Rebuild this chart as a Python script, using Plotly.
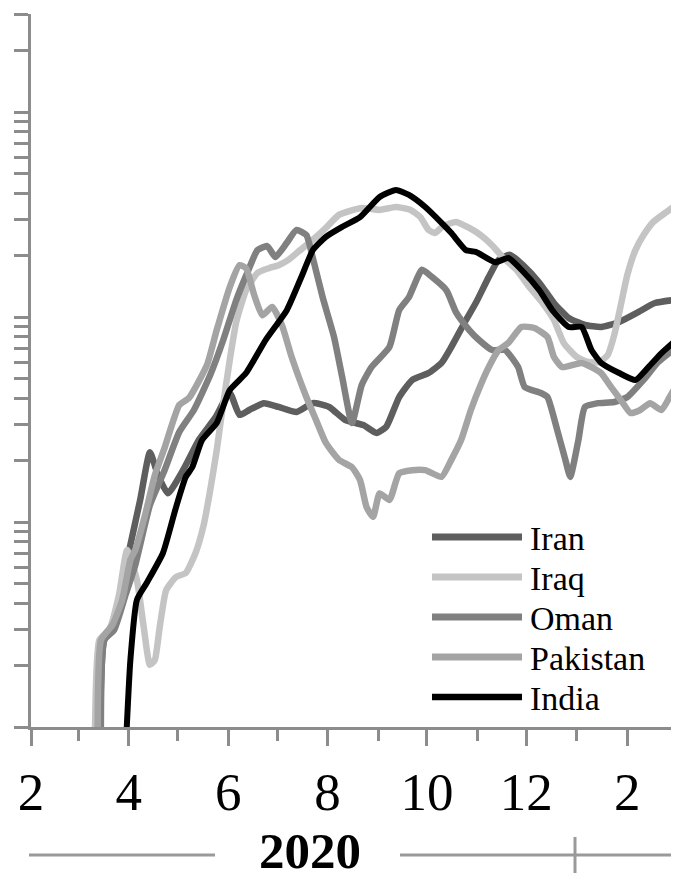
import math
import plotly.graph_objects as go

# ---------------- data ----------------
iran_dates = ["2020-03-14", "2020-03-17", "2020-03-23", "2020-03-31", "2020-04-08", "2020-04-14",
              "2020-04-19", "2020-04-25", "2020-05-05", "2020-05-14", "2020-05-24", "2020-06-02",
              "2020-06-08", "2020-06-14", "2020-06-23", "2020-07-02", "2020-07-13", "2020-07-23",
              "2020-08-02", "2020-08-12", "2020-08-23", "2020-08-31", "2020-09-06", "2020-09-14",
              "2020-09-22", "2020-10-02", "2020-10-10", "2020-10-16", "2020-10-25", "2020-10-31",
              "2020-11-08", "2020-11-14", "2020-11-21", "2020-11-29", "2020-12-09", "2020-12-18",
              "2020-12-27", "2021-01-06", "2021-01-16", "2021-01-27", "2021-02-08", "2021-02-18",
              "2021-03-05"]
iran_values = [0.5, 2.66, 3.04, 6.53, 12.8, 21.9,
               16.9, 13.8, 18.3, 25.1, 32.2, 42.6,
               33.3, 35.2, 38.0, 36.4, 34.4, 38.0,
               36.4, 31.4, 29.7, 27.2, 29.1, 40.7,
               49.3, 53.3, 59.7, 71.4, 96.7, 117,
               157, 190, 201, 179, 147, 117,
               98.9, 91.4, 89.4, 94.6, 106, 117,
               122]

iraq_dates = ["2020-03-11", "2020-03-14", "2020-03-20", "2020-03-26", "2020-03-31", "2020-04-06",
              "2020-04-10", "2020-04-14", "2020-04-17", "2020-04-20", "2020-04-24", "2020-04-30",
              "2020-05-06", "2020-05-12", "2020-05-17", "2020-05-21", "2020-05-25", "2020-05-28",
              "2020-06-02", "2020-06-06", "2020-06-12", "2020-06-19", "2020-06-26", "2020-07-02",
              "2020-07-08", "2020-07-14", "2020-07-23", "2020-07-31", "2020-08-08", "2020-08-22",
              "2020-09-02", "2020-09-12", "2020-09-21", "2020-09-27", "2020-10-02", "2020-10-06",
              "2020-10-11", "2020-10-19", "2020-10-27", "2020-11-03", "2020-11-10", "2020-11-17",
              "2020-11-25", "2020-12-02", "2020-12-11", "2020-12-18", "2020-12-24", "2021-01-01",
              "2021-01-08", "2021-01-15", "2021-01-20", "2021-01-24", "2021-01-28", "2021-02-01",
              "2021-02-06", "2021-02-11", "2021-02-17", "2021-02-25", "2021-03-05"]
iraq_values = [0.5, 2.66, 2.97, 4.40, 7.3, 5.21,
               3.15, 2.01, 2.12, 3.07, 4.66, 5.39,
               5.64, 7.06, 9.67, 14.3, 22.4, 33.3,
               61.7, 94.6, 135, 164, 173, 179,
               190, 208, 238, 272, 315, 340,
               333, 344, 333, 307, 266, 257,
               278, 291, 272, 251, 224, 194,
               170, 143, 117, 96.7, 74.7, 63.8,
               60.3, 60.3, 65.3, 81.7, 114, 160,
               212, 251, 291, 325, 360]

oman_dates = ["2020-03-15", "2020-03-17", "2020-03-23", "2020-03-30", "2020-04-05", "2020-04-14",
              "2020-04-23", "2020-05-02", "2020-05-11", "2020-05-21", "2020-05-29", "2020-06-06",
              "2020-06-13", "2020-06-19", "2020-06-25", "2020-06-30", "2020-07-07", "2020-07-13",
              "2020-07-19", "2020-07-23", "2020-07-29", "2020-08-05", "2020-08-10", "2020-08-16",
              "2020-08-22", "2020-08-28", "2020-09-08", "2020-09-14", "2020-09-20", "2020-09-28",
              "2020-10-04", "2020-10-13", "2020-10-19", "2020-10-27", "2020-11-02", "2020-11-10",
              "2020-11-18", "2020-11-26", "2020-11-30", "2020-12-10", "2020-12-14", "2020-12-20",
              "2020-12-25", "2020-12-28", "2021-01-02", "2021-01-06", "2021-01-14", "2021-01-24",
              "2021-02-01", "2021-02-11", "2021-02-20", "2021-03-05"]
oman_values = [0.5, 2.66, 2.97, 4.40, 6.17, 12.1,
               17.9, 27.5, 35.2, 52.1, 77.2, 121,
               166, 212, 222, 196, 230, 266,
               251, 194, 125, 79.9, 51.0, 30.4,
               46.6, 57.0, 71.4, 108, 125, 170,
               157, 135, 105, 86.4, 77.2, 69.0,
               69.0, 57.0, 45.6, 42.6, 40.7, 28.1,
               20.1, 16.6, 25.1, 36.4, 38.0, 38.5,
               40.7, 49.3, 60.3, 73.0]

pakistan_dates = ["2020-03-13", "2020-03-15", "2020-03-22", "2020-03-28", "2020-04-02", "2020-04-05",
                  "2020-04-11", "2020-04-17", "2020-04-23", "2020-05-02", "2020-05-08", "2020-05-19",
                  "2020-05-25", "2020-06-02", "2020-06-08", "2020-06-12", "2020-06-17", "2020-06-22",
                  "2020-06-28", "2020-07-04", "2020-07-10", "2020-07-19", "2020-07-25", "2020-07-31",
                  "2020-08-08", "2020-08-16", "2020-08-21", "2020-08-25", "2020-08-29", "2020-09-02",
                  "2020-09-08", "2020-09-14", "2020-09-22", "2020-09-30", "2020-10-10", "2020-10-16",
                  "2020-10-22", "2020-10-28", "2020-11-03", "2020-11-08", "2020-11-14", "2020-11-20",
                  "2020-11-28", "2020-12-06", "2020-12-14", "2020-12-18", "2020-12-23", "2021-01-04",
                  "2021-01-10", "2021-01-16", "2021-01-22", "2021-01-28", "2021-02-03", "2021-02-09",
                  "2021-02-15", "2021-02-22", "2021-02-27", "2021-03-05"]
pakistan_values = [0.5, 2.66, 3.15, 4.17, 6.53, 7.3,
                   10.8, 16.9, 23.0, 37.2, 40.3, 58.3,
                   86.4, 140, 179, 173, 128, 102,
                   112, 91.4, 63.8, 40.7, 31.4, 24.3,
                   20.1, 18.5, 16.0, 11.8, 10.6, 13.8,
                   12.8, 17.3, 17.9, 17.9, 16.6, 20.1,
                   25.1, 35.2, 46.6, 57.0, 69.0, 74.7,
                   89.4, 88.4, 79.9, 63.8, 57.0, 59.7,
                   57.0, 53.3, 45.6, 39.4, 34.0, 35.2,
                   38.0, 35.2, 40.7, 49.3]

india_dates = ["2020-03-29", "2020-04-02", "2020-04-06", "2020-04-12", "2020-04-22", "2020-04-30",
               "2020-05-06", "2020-05-10", "2020-05-16", "2020-05-25", "2020-06-02", "2020-06-12",
               "2020-06-24", "2020-07-07", "2020-07-17", "2020-07-23", "2020-07-31", "2020-08-10",
               "2020-08-21", "2020-09-02", "2020-09-12", "2020-09-20", "2020-09-30", "2020-10-10",
               "2020-10-16", "2020-10-25", "2020-10-31", "2020-11-12", "2020-11-20", "2020-11-28",
               "2020-12-09", "2020-12-17", "2020-12-27", "2021-01-04", "2021-01-10", "2021-01-16",
               "2021-01-27", "2021-02-06", "2021-02-14", "2021-02-22", "2021-03-05"]
india_values = [0.5, 2.12, 4.17, 5.04, 7.06, 11.8,
                16.6, 18.5, 25.1, 30.4, 44.0, 53.3,
                77.2, 108, 164, 212, 246, 275,
                307, 385, 417, 394, 344, 288,
                257, 212, 208, 185, 194, 170,
                135, 108, 89.4, 89.4, 69.0, 59.7,
                53.3, 49.3, 57.0, 66.7, 79.9]

series_names = ["Iran", "Iraq", "Oman", "Pakistan", "India"]
series_dates = [iran_dates, iraq_dates, oman_dates, pakistan_dates, india_dates]
series_values = [iran_values, iraq_values, oman_values, pakistan_values, india_values]
year_label = "2020"
month_tick_format = "%-m"

# ---------------- styling / layout ----------------
series_colors = ["#5e5e5e", "#c4c4c4", "#808080", "#a4a4a4", "#000000"]
series_widths = [6.5, 6.5, 6.5, 6.5, 6]
axis_gray = "#8c8c8c"
serif = "Liberation Serif"

# the page body has an 8px default margin; the figure is sized to end at the window edge
OFF = 8
W, H = 679 - OFF, 881 - OFF
ML, MR, MT, MB = 31 - OFF, 0, 14 - OFF, 154
PW, PH = W - ML - MR, H - MT - MB


def px_x(x):
    """screen x (window pixels) -> paper fraction"""
    return (x - OFF - ML) / PW


def px_y(y):
    """screen y (window pixels) -> paper fraction"""
    return (H - MB - (y - OFF)) / PH


fig = go.Figure()
for name, d, v, c, w in zip(series_names, series_dates, series_values, series_colors, series_widths):
    fig.add_trace(go.Scatter(
        x=d, y=v, mode="lines", name=name, showlegend=False, hoverinfo="skip",
        line=dict(color=c, width=w, shape="spline", smoothing=0.5),
    ))

fig.update_xaxes(
    type="date", range=["2020-02-01", "2021-03-04 18:00"],
    showline=True, linecolor=axis_gray, linewidth=3,
    ticks="outside", ticklen=16, tickwidth=3, tickcolor=axis_gray,
    tick0="2020-02-01", dtick="M2", tickformat=month_tick_format,
    tickfont=dict(family=serif, size=53, color="black"),
    minor=dict(ticks="outside", ticklen=11, tickwidth=3, tickcolor=axis_gray,
               tick0="2020-02-01", dtick="M1", showgrid=False),
    showgrid=False, zeroline=False, fixedrange=True,
)
fig.update_yaxes(
    type="log", range=[0, math.log10(3000) + 0.001],
    showline=True, linecolor=axis_gray, linewidth=3,
    ticks="outside", ticklen=14, tickwidth=3, tickcolor=axis_gray,
    dtick="D1", showticklabels=False,
    showgrid=False, zeroline=False, fixedrange=True,
)

shapes = []
annotations = []

# custom legend
leg_x0, leg_x1, leg_text_x = 432, 522, 528
leg_y0, leg_dy = 537, 40
for i, (name, c, w) in enumerate(zip(series_names, series_colors, series_widths)):
    yy = leg_y0 + i * leg_dy
    shapes.append(dict(type="line", xref="paper", yref="paper",
                       x0=px_x(leg_x0), x1=px_x(leg_x1), y0=px_y(yy), y1=px_y(yy),
                       line=dict(color=c, width=w + 0.5)))
    annotations.append(dict(xref="paper", yref="paper", x=px_x(leg_text_x), y=px_y(yy + 1),
                            xanchor="left", yanchor="middle", showarrow=False, text=name,
                            font=dict(family=serif, size=34, color="black")))

# year band below the axis
band_y = 855
line_style = dict(color="#9a9a9a", width=3)
shapes.append(dict(type="line", xref="paper", yref="paper", x0=px_x(29), x1=px_x(215),
                   y0=px_y(band_y), y1=px_y(band_y), line=line_style))
shapes.append(dict(type="line", xref="paper", yref="paper", x0=px_x(400), x1=px_x(672),
                   y0=px_y(band_y), y1=px_y(band_y), line=line_style))
shapes.append(dict(type="line", xref="paper", yref="paper", x0=px_x(575), x1=px_x(575),
                   y0=px_y(837), y1=px_y(873), line=line_style))
annotations.append(dict(xref="paper", yref="paper", x=px_x(310), y=px_y(880),
                        xanchor="center", yanchor="bottom", showarrow=False, borderpad=0,
                        text="<b>" + year_label + "</b>",
                        font=dict(family=serif, size=51, color="black")))

fig.update_layout(
    width=W, height=H,
    margin=dict(l=ML, r=MR, t=MT, b=MB, pad=0),
    paper_bgcolor="white", plot_bgcolor="white",
    shapes=shapes, annotations=annotations,
    showlegend=False,
)

fig.write_html("out.html")
